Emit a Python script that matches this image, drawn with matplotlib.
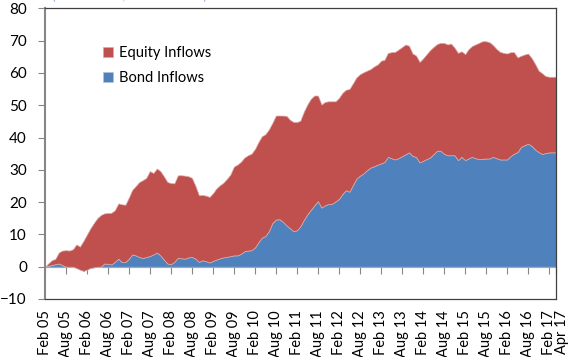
import matplotlib
matplotlib.use("Agg")
import matplotlib.pyplot as plt
import matplotlib.transforms as mtransforms
import pandas as pd

plt.rcParams["font.family"] = ["Lato", "DejaVu Sans"]
plt.rcParams["font.size"] = 10

# monthly data, Feb 05 .. Apr 17
months = pd.date_range("2005-02-01", periods=147, freq="MS")

# top of the stack (bond + equity)
total = [
    0.0, 1.0, 2.0, 2.4, 4.4, 5.0, 5.1, 5.0, 5.4, 6.9, 6.2, 8.0,
    10.0, 11.8, 13.5, 15.0, 16.0, 16.5, 16.6, 16.7, 17.5, 19.6, 19.3, 19.2,
    21.5, 23.8, 25.0, 26.2, 26.8, 27.5, 29.6, 29.0, 30.4, 29.6, 28.0, 26.2,
    25.9, 25.8, 28.3, 28.3, 28.2, 28.0, 27.5, 25.0, 22.1, 22.2, 22.0, 21.6,
    22.8, 24.2, 25.2, 26.0, 27.2, 28.5, 31.0, 31.6, 32.5, 33.8, 34.5, 35.0,
    36.5, 38.5, 40.4, 41.0, 42.5, 44.5, 46.8, 46.8, 46.8, 46.7, 45.5, 44.8,
    44.8, 45.2, 48.0, 50.2, 52.0, 53.0, 53.0, 50.2, 51.0, 51.2, 51.2, 51.2,
    52.3, 53.8, 54.8, 55.0, 56.8, 58.6, 59.6, 60.2, 60.7, 61.2, 62.0, 62.6,
    63.8, 64.0, 66.2, 66.4, 66.5, 67.2, 68.0, 68.8, 68.4, 66.0, 65.4, 63.4,
    64.5, 65.7, 67.0, 68.0, 68.9, 69.3, 69.3, 68.8, 69.1, 67.8, 66.2, 66.7,
    65.8, 67.3, 68.3, 68.8, 69.3, 69.8, 69.8, 69.5, 68.6, 67.4, 66.5, 66.2,
    66.0, 66.4, 66.4, 64.8, 65.3, 65.7, 66.0, 64.6, 62.8, 60.7, 59.9, 59.0,
    58.8, 58.8, 58.8,
]

bond = [
    0.0, 0.3, 0.5, 0.8, 1.0, 0.5, 0.0, 0.0, 0.0, -0.4, -0.9, -1.3,
    -0.9, -0.4, -0.2, 0.0, 0.0, 1.0, 0.9, 0.7, 1.5, 2.5, 1.4, 1.5,
    2.5, 3.8, 3.5, 3.0, 2.7, 3.0, 3.3, 3.8, 4.4, 3.5, 2.2, 1.0,
    0.8, 1.5, 2.8, 2.6, 2.5, 2.9, 3.0, 2.5, 1.5, 2.0, 1.7, 1.3,
    1.8, 2.2, 2.6, 2.9, 3.0, 3.3, 3.5, 3.5, 4.0, 4.8, 5.0, 5.1,
    6.0, 7.5, 9.0, 9.5, 11.0, 13.5, 14.6, 14.7, 13.9, 12.8, 11.9, 11.0,
    11.3, 12.5, 14.5, 16.2, 17.6, 19.0, 20.3, 18.3, 19.0, 19.4, 19.5, 20.2,
    21.0, 22.5, 23.7, 23.2, 25.3, 27.3, 28.2, 28.9, 29.9, 30.7, 31.1, 31.6,
    32.0, 32.4, 34.0, 33.6, 33.2, 33.6, 34.2, 34.8, 35.4, 34.3, 34.0, 32.3,
    32.8, 33.3, 33.8, 34.8, 35.9, 35.9, 35.0, 34.5, 34.5, 34.5, 33.0, 34.0,
    33.0, 33.5, 34.0, 33.6, 33.3, 33.4, 33.5, 33.5, 34.0, 33.6, 33.2, 33.2,
    33.2, 34.2, 35.0, 35.5, 37.1, 37.6, 38.1, 37.4, 36.3, 35.5, 34.9, 35.2,
    35.4, 35.4, 35.4,
]

red = "#C0504D"
blue = "#4F81BD"
grey = "#868686"

fig = plt.figure(figsize=(5.71, 3.57), dpi=100)
ax = fig.add_axes([45 / 571, 1 - 299 / 357, 511 / 571, 290.7 / 357])

b = ax.fill_between(months, 0, bond, facecolor=blue, edgecolor="#b8c4d4",
                    linewidth=0.5, label="Bond Inflows")
e = ax.fill_between(months, bond, total, facecolor=red, edgecolor="#d9a9a8",
                    linewidth=0.5, label="Equity Inflows")

ax.set_xlim(months[0], months[-1])
ax.set_ylim(-10, 80)
ax.set_yticks(range(-10, 81, 10))

tick_dates = list(months[::6]) + [months[-1]]
ax.set_xticks(tick_dates)
ax.set_xticklabels([d.strftime("%b %y") for d in tick_dates], rotation=90,
                   fontsize=10.5)
ax.tick_params(axis="x", length=0, pad=8)
ax.tick_params(axis="y", length=5, color=grey, pad=8, labelsize=11)

# Excel nudges the last label (Apr 17) a bit to the right
last = ax.get_xticklabels()[-1]
last.set_transform(last.get_transform() +
                   mtransforms.ScaledTranslation(6 / 100, 0, fig.dpi_scale_trans))

for side in ["top", "right", "bottom"]:
    ax.spines[side].set_color("#404040")
    ax.spines[side].set_linewidth(0.9)
ax.spines["left"].set_color(grey)
ax.spines["left"].set_linewidth(1.5)

# zero line with tick marks, as Excel draws it
zero = (0 - ax.get_ylim()[0]) / (ax.get_ylim()[1] - ax.get_ylim()[0])
sec = ax.secondary_xaxis(zero)
sec.set_xticks(tick_dates)
sec.xaxis.set_ticks_position("bottom")
sec.tick_params(length=5, color=grey, labelbottom=False, labeltop=False)
sec.spines["bottom"].set_color(grey)
sec.spines["top"].set_color(grey)

ax.legend([e, b], ["Equity Inflows", "Bond Inflows"], loc="upper left",
          bbox_to_anchor=(0.088, 0.915), frameon=False, fontsize=10.5,
          handlelength=0.7, handleheight=0.7, handletextpad=0.4,
          labelspacing=0.75)

fig.text(52 / 571, 1.0, "(cumulative, USD billions)",
         color="#8DB3E2", fontsize=10, va="baseline", ha="left")

fig.savefig("out.png", dpi=100)
